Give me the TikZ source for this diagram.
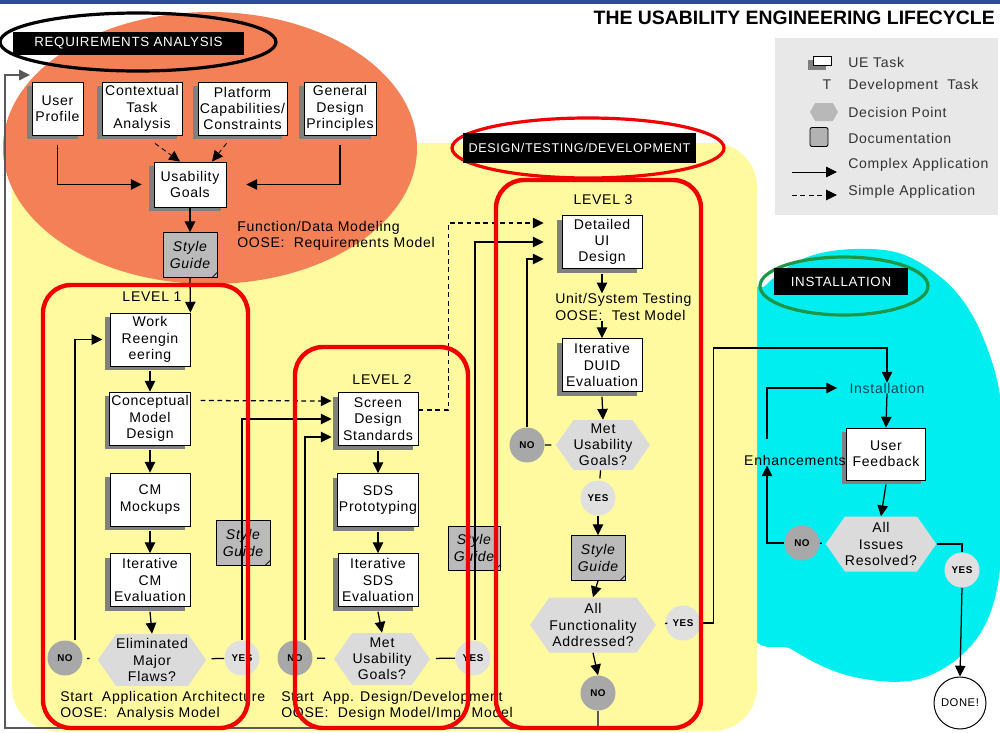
\documentclass[tikz,border=0pt]{standalone}
\usepackage{fontspec}
\setmainfont{Liberation Sans}[LetterSpace=5]
\newfontfamily\lifetitlefont{Liberation Sans}
\usetikzlibrary{shapes.symbols,shadows,arrows.meta}
\definecolor{reqorange}{RGB}{243,128,86}
\definecolor{devyellow}{RGB}{255,250,160}
\definecolor{instcyan}{RGB}{0,238,240}
\definecolor{lvlred}{RGB}{240,0,0}
\definecolor{instgreen}{RGB}{30,150,70}
\definecolor{topblue}{RGB}{45,75,155}
\definecolor{legendgrey}{RGB}{232,232,232}
\definecolor{instteal}{RGB}{0,70,90}
\newcommand{\uefont}{\fontsize{10}{11.5}\selectfont}
\newcommand{\circfont}{\fontsize{7}{8}\selectfont\bfseries}
\newcommand{\labfont}{\fontsize{9.5}{11}\selectfont}
\tikzset{
  uetask/.style={draw, line width=0.6pt, fill=white, align=center, inner sep=1pt,
    minimum width=20mm, minimum height=13.25mm, font=\uefont,
    drop shadow={shadow xshift=-1.2mm, shadow yshift=-1mm, fill=black!50, opacity=1}},
  decision/.style={signal, signal to=west and east, signal pointer angle=110,
    fill=black!14, align=center, inner sep=0pt, font=\uefont, minimum height=13mm},
  nocirc/.style={circle, fill=black!34, minimum size=8.75mm, inner sep=0pt, font=\circfont},
  yescirc/.style={nocirc, fill=black!12},
  stylebook/.style={draw, line width=0.6pt, fill=black!27, align=center,
    minimum width=13.5mm, minimum height=11.25mm, inner sep=0pt, font=\uefont\itshape,
    path picture={\draw[line width=0.5pt] ([xshift=-1.2mm]path picture bounding box.south east)
      -- ([yshift=1.2mm]path picture bounding box.south east);}},
  regionlab/.style={fill=black, text=white, font=\labfont, inner sep=0pt},
  levelframe/.style={draw=lvlred, line width=1.1mm, rounded corners=7mm},
  plain/.style={font=\uefont, inner sep=0pt},
  >={Triangle[length=2.7mm,width=2.6mm]},
  link/.style={line width=0.9pt, ->},
  simplelink/.style={link, dash pattern=on 1.2mm off 0.9mm},
}
\begin{document}
\begin{tikzpicture}[x=0.25mm, y=-0.25mm]
  \useasboundingbox (0,0) rectangle (1000,733);
  \fill[white] (0,0) rectangle (1000,733);
  \fill[topblue] (0,0) rectangle (1000,4);
  \fill[instcyan] plot[smooth cycle, tension=0.6] coordinates {(745,320) (766,285) (805,258)
    (855,249) (907,256) (957,293) (988,350) (1003,420) (1003,530) (993,605) (965,652)
    (915,680) (850,676) (793,650) (745,610)};
  \fill[devyellow, rounded corners=11mm] (12,143) rectangle (757,731);
  \fill[reqorange] (210,148) ellipse [x radius=51.75mm, y radius=34mm];
  \draw[line width=0.8mm] (138,42) ellipse [x radius=34.5mm, y radius=7.25mm];
  \draw[lvlred, line width=0.8mm] (588,148) ellipse [x radius=34mm, y radius=7.5mm];
  \draw[instgreen, line width=0.8mm] (844,286) ellipse [x radius=21mm, y radius=7.25mm];
  \node[regionlab, minimum width=57.75mm, minimum height=5.75mm] (ralab) at (128.5,43.5) {REQUIREMENTS ANALYSIS};
  \node[regionlab, font=\fontsize{9}{10}\selectfont, minimum width=58.25mm, minimum height=7.5mm] (dtlab) at (579.5,148) {DESIGN/TESTING/DEVELOPMENT};
  \node[regionlab, minimum width=33.5mm, minimum height=6.75mm] (inlab) at (841,281.5) {INSTALLATION};
  \node[font=\lifetitlefont\bfseries\fontsize{13.8}{15}\selectfont, anchor=east, inner sep=0pt] (title) at (995,18) {THE USABILITY ENGINEERING LIFECYCLE};

  % legend
  \node[fill=legendgrey, minimum width=55.75mm, minimum height=44.25mm, inner sep=0pt] (legend) at (886.5,126.5) {};
  \begin{scope}[every node/.append style={text=black!80}]
    \node[uetask, minimum width=4.5mm, minimum height=2.3mm, inner sep=0pt] (lgue) at (822,61) {};
    \node[plain, anchor=west] (lgt1) at (848,62) {UE Task};
    \node[plain] (lgT) at (827,85) {T};
    \node[plain, anchor=west] (lgt2) at (848,86) {Development\ \ Task};
    \node[decision, fill=black!28, minimum width=7mm, minimum height=4.5mm, signal pointer angle=120] (lgdp) at (824,112) {};
    \node[plain, anchor=west] (lgt3) at (848,112) {Decision Point};
    \node[draw, line width=0.6pt, fill=black!30, rounded corners=0.5mm, minimum width=4.5mm, minimum height=4.75mm] (lgdoc) at (819,137) {};
    \node[plain, anchor=west] (lgt4) at (848,138) {Documentation};
    \node[plain, anchor=west] (lgt5) at (848,165) {Complex Application};
    \node[plain, anchor=west] (lgt6) at (848,192) {Simple Application};
  \end{scope}
  \coordinate (lgca) at (792,172);
  \coordinate (lgcb) at (837,172);
  \coordinate (lgsa) at (792,195);
  \coordinate (lgsb) at (837,195);
  \draw[link, line width=0.6pt] (lgca) -- (lgcb);
  \draw[simplelink, line width=0.6pt] (lgsa) -- (lgsb);

  % requirements analysis
  \node[uetask, minimum width=12.75mm] (usr) at (57.5,108.5) {User\\Profile};
  \node[uetask] (cta) at (142,108.5) {Contextual\\Task\\Analysis};
  \node[uetask, minimum width=22.25mm] (pcc) at (242.5,108.5) {Platform\\Capabilities/\\Constraints};
  \node[uetask, minimum width=18mm] (gdp) at (340,108.5) {General\\Design\\Principles};
  \node[uetask, minimum width=18mm, minimum height=11.25mm] (ug) at (190,184.5) {Usability\\Goals};
  \node[stylebook] (sg0) at (190,255) {Style\\Guide};
  \node[plain, align=left, anchor=west] (fdm) at (237,236) {Function/Data Modeling\\OOSE:\ \ Requirements Model};

  % level 1
  \node[plain] (lv1) at (152,297) {LEVEL 1};
  \node[uetask] (wr) at (150,339.5) {Work\\Reengin\\eering};
  \node[uetask] (cmd) at (150,418.5) {Conceptual\\Model\\Design};
  \node[uetask] (cmm) at (150,499.5) {CM\\Mockups};
  \node[uetask] (icm) at (150,580) {Iterative\\CM\\Evaluation};
  \node[decision, minimum width=25mm] (emf) at (152,660) {Eliminated\\Major\\Flaws?};
  \node[nocirc] (no1) at (65,658) {NO};
  \node[yescirc] (yes1) at (242,658) {YES};
  \node[stylebook] (sg1) at (243,543) {Style\\Guide};
  \node[plain, align=left, anchor=west] (sa1) at (60,705.5) {Start\ \ Application Architecture\\OOSE:\ \ Analysis Model};

  % level 2
  \node[plain] (lv2) at (382,380) {LEVEL 2};
  \node[uetask] (sds) at (378,419) {Screen\\Design\\Standards};
  \node[uetask] (sdp) at (378,500) {SDS\\Prototyping};
  \node[uetask] (isd) at (378,580) {Iterative\\SDS\\Evaluation};
  \node[decision, minimum width=24mm] (mug2) at (382,659) {Met\\Usability\\Goals?};
  \node[nocirc] (no2) at (295,658) {NO};
  \node[yescirc] (yes2) at (473,658) {YES};
  \node[stylebook, minimum width=13mm, minimum height=11mm] (sg2) at (474,548) {Style\\Guide};
  \node[plain, align=left, anchor=west] (sa2) at (281,705.5) {Start\ \ App. Design/Development\\OOSE:\ \ Design Model/Imp. Model};

  % level 3
  \node[plain] (lv3) at (603,200) {LEVEL 3};
  \node[uetask] (dui) at (602,242) {Detailed\\UI\\Design};
  \node[plain, align=left, anchor=west] (ust) at (555,307) {Unit/System Testing\\OOSE:\ \ Test Model};
  \node[uetask] (idu) at (602,365) {Iterative\\DUID\\Evaluation};
  \node[decision, minimum width=23.5mm, minimum height=12.5mm] (mug3) at (603,445) {Met\\Usability\\Goals?};
  \node[nocirc] (no3) at (527,445) {NO};
  \node[yescirc] (yes3) at (598,498) {YES};
  \node[stylebook] (sg3) at (598,558) {Style\\Guide};
  \node[decision, minimum width=27mm, minimum height=13.75mm] (afa) at (593,625) {All\\Functionality\\Addressed?};
  \node[yescirc] (yes4) at (683,623) {YES};
  \node[nocirc] (no4) at (598,693) {NO};

  % installation
  \node[plain, text=instteal] (inst) at (887,388) {Installation};
  \node[uetask, minimum width=19.75mm, minimum height=13mm] (uf) at (886,454) {User\\Feedback};
  \node[plain] (enh) at (795,460) {Enhancements};
  \node[decision, minimum width=26.75mm, minimum height=13.75mm] (air) at (881,544) {All\\Issues\\Resolved?};
  \node[nocirc] (no5) at (802,543) {NO};
  \node[yescirc] (yes5) at (962,570) {YES};
  \node[circle, draw, line width=0.7pt, fill=white, minimum size=13mm, inner sep=0pt, font=\fontsize{8}{9}\selectfont] (done) at (960,703) {DONE!};

  % connectors
  \draw[link, shorten >=3mm] ([yshift=-2.5mm]usr.south) |- (ug.west);
  \draw[link, shorten >=5mm] ([yshift=-2.5mm]gdp.south) |- (ug.east);
  \draw[simplelink, line width=0.6pt] ([xshift=3.25mm,yshift=-2mm]cta.south) -- ([xshift=-2.5mm]ug.north);
  \draw[simplelink, line width=0.6pt] ([xshift=-4mm,yshift=-2mm]pcc.south) -- ([xshift=5.5mm]ug.north);
  \draw[link] (ug.south) -- (sg0.north);
  \draw[link] (sg0.south) -- (wr.north east);

  \foreach \a/\b in {wr/cmd,cmd/cmm,cmm/icm,icm/emf,sds/sdp,sdp/isd,isd/mug2,idu/mug3}
    \draw[link] ([yshift=-1.2mm]\a.south) -- (\b.north);

  \path[line width=0.9pt]
  (emf) edge[shorten <=2.2mm, shorten >=1mm] (no1)
  (emf) edge[shorten <=1.5mm] (yes1)
  (mug2) edge[shorten <=2.2mm, shorten >=1mm] (no2)
  (mug2) edge[shorten <=1.5mm] (yes2)
  (mug3) edge[shorten <=1.1mm] (no3)
  (afa) edge[shorten <=3mm] (yes4)
  (air) edge[shorten <=1mm] (no5)
  (mug3) edge[shorten >=0.5mm] (yes3);

  \draw[link, shorten >=1.8mm] ([xshift=2.5mm]no1.north) |- (wr.west);
  \draw[link, shorten >=1.5mm] (yes1.north) |- (sds.west);
  \draw[simplelink, shorten <=2.5mm, shorten >=1.5mm] ([yshift=4.5mm]cmd.east) -- ([yshift=4.5mm]sds.west);
  \draw[link, shorten >=1.5mm] ([xshift=2.5mm]no2.north) |- ([yshift=-4.5mm]sds.west);
  \draw[link, shorten >=4.5mm] ([xshift=0.5mm]yes2.north) |- (dui.west);
  \draw[simplelink, shorten >=4.5mm] ([yshift=2.25mm]sds.east) -- ++(30,0) |- ([yshift=4.75mm]dui.west);

  \draw[link] ([yshift=-1.2mm]dui.south) -- (dui.south |- ust.north);
  \draw[link] (dui.south |- ust.south) -- (idu.north);
  \draw[link, shorten >=4.5mm] (no3.north) |- ([yshift=-4.25mm]dui.west);
  \draw[link] (yes3.south) -- (sg3.north);
  \draw[link] (sg3.south) -- (afa.north);
  \draw[link] (afa.south) -- (no4.north);
  \draw[link] (yes4.east) -- ++(12.5,0) -- ++(0,-275) -| (inst.north);

  \draw[link] (inst.south) -- (uf.north);
  \draw[link] ([yshift=-1mm]uf.south) -- (air.north);
  \draw[link] (no5.west) -| ([xshift=-7mm]enh.south);
  \draw[link, shorten >=3mm] ([xshift=-7mm,yshift=4mm]enh.north) |- (inst.west);
  \draw[line width=0.9pt] (air.east) -| (yes5.north);
  \draw[link] (yes5.south) -- (done.north);

  \coordinate (reqin) at (30,75);
  \draw[link, draw=black!65, line width=1.1pt] (no4.south) |- (5,728) |- (reqin);

  % level frames
  \draw[levelframe] (43,285) rectangle (248,728);
  \draw[levelframe] (295,347) rectangle (468,728);
  \draw[levelframe] (496,180) rectangle (701,728);
\end{tikzpicture}
\end{document}
